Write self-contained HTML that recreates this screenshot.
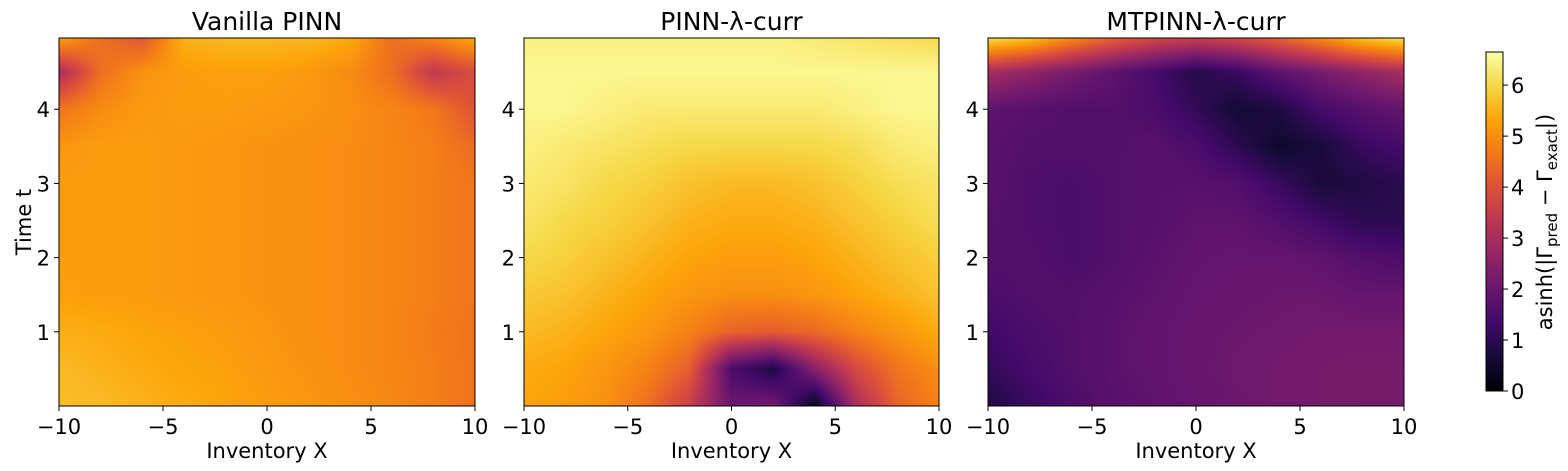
<!DOCTYPE html>
<html><head><meta charset="utf-8">
<style>
body{margin:0;background:#fff;width:1568px;height:471px;overflow:hidden;position:relative;font-family:"DejaVu Sans","Liberation Sans",sans-serif}
canvas{position:absolute}
svg{position:absolute;left:0;top:0}
text{font-family:"DejaVu Sans","Liberation Sans",sans-serif;fill:#000}
</style></head><body>
<canvas id="c0" style="left:59px;top:38px" width="416" height="368"></canvas>
<canvas id="c1" style="left:524px;top:38px" width="415" height="368"></canvas>
<canvas id="c2" style="left:988px;top:38px" width="416" height="368"></canvas>
<canvas id="cb" style="left:1486px;top:52px" width="17" height="339"></canvas>
<svg id="s" width="1568" height="471"></svg>
<script>
const xCats=[-10,-8,-6,-4,-2,0,2,4,6,8,10];
const tCats=[0,0.5,1,1.5,2,2.5,3,3.5,4,4.5,5];
const xTicks=[-10,-5,0,5,10];
const tTicks=[1,2,3,4];
const cbTicks=[0,1,2,3,4,5,6];
const titles=["Vanilla PINN","PINN-λ-curr","MTPINN-λ-curr"];
const vanilla=[
[5.65,5.6,5.5,5.4,5.3,5.2,5.1,5.0,4.9,4.75,4.55],
[5.6,5.5,5.4,5.3,5.25,5.15,5.05,4.95,4.85,4.75,4.55],
[5.45,5.4,5.3,5.25,5.2,5.1,5.0,4.95,4.85,4.7,4.55],
[5.25,5.2,5.2,5.15,5.1,5.05,5.0,4.95,4.85,4.75,4.6],
[5.2,5.2,5.2,5.15,5.1,5.05,5.0,4.95,4.85,4.75,4.6],
[5.2,5.2,5.2,5.15,5.1,5.05,5.0,4.95,4.85,4.75,4.6],
[5.2,5.2,5.2,5.15,5.1,5.05,5.0,4.95,4.85,4.75,4.6],
[5.1,5.2,5.2,5.15,5.1,5.05,5.0,4.95,4.85,4.75,4.45],
[4.6,4.95,5.15,5.2,5.2,5.15,5.1,5.0,4.85,4.65,4.0],
[3.0,4.5,5.05,5.2,5.25,5.25,5.15,4.95,4.5,3.4,3.9],
[5.5,4.5,4.0,5.5,5.6,5.6,5.6,5.4,4.5,5.0,5.5]];
const pinnCurr=[
[5.3,5.2,5.0,4.5,3.5,2.0,2.2,0.3,3.0,4.3,4.8],
[5.4,5.3,5.1,4.8,4.2,1.5,0.8,2.5,3.8,4.6,5.0],
[5.6,5.5,5.3,5.1,4.8,4.3,4.2,4.4,4.8,5.1,5.4],
[5.8,5.7,5.5,5.3,5.1,5.0,5.0,5.1,5.3,5.5,5.7],
[6.0,5.9,5.7,5.5,5.3,5.2,5.2,5.3,5.5,5.7,5.9],
[6.2,6.0,5.9,5.7,5.5,5.4,5.4,5.5,5.7,5.9,6.1],
[6.3,6.2,6.0,5.9,5.7,5.6,5.6,5.7,5.9,6.1,6.2],
[6.4,6.3,6.2,6.1,6.0,6.0,6.0,6.0,6.1,6.3,6.4],
[6.5,6.5,6.4,6.3,6.3,6.3,6.3,6.3,6.4,6.5,6.5],
[6.5,6.5,6.5,6.5,6.5,6.5,6.5,6.5,6.5,6.5,6.5],
[6.4,6.4,6.4,6.4,6.4,6.4,6.4,6.3,6.2,6.1,6.0]];
const mtpinnCurr=[
[0.8,1.2,1.5,1.7,1.8,1.9,2.0,2.1,2.15,2.2,2.2],
[1.1,1.4,1.6,1.75,1.85,1.95,2.05,2.1,2.15,2.2,2.2],
[1.3,1.5,1.6,1.75,1.85,1.95,2.0,2.05,2.1,2.1,2.1],
[1.5,1.6,1.6,1.7,1.8,1.9,1.95,2.0,2.0,1.9,1.9],
[1.6,1.6,1.5,1.6,1.75,1.85,1.9,1.9,1.8,1.6,1.5],
[1.65,1.55,1.5,1.6,1.7,1.8,1.8,1.6,1.3,1.0,1.0],
[1.7,1.55,1.5,1.6,1.7,1.7,1.6,1.2,0.7,0.8,1.0],
[1.75,1.6,1.6,1.6,1.7,1.5,1.0,0.5,0.7,1.2,1.4],
[1.8,1.7,1.6,1.6,1.5,1.1,0.6,0.8,1.4,1.7,1.9],
[3.0,2.6,2.2,1.8,1.4,0.9,1.2,1.8,2.2,2.6,3.0],
[6.4,6.0,5.2,4.5,4.0,3.8,4.0,4.5,5.2,6.0,6.4]];
const grids=[vanilla,pinnCurr,mtpinnCurr];

const VMIN=0,VMAX=6.65,TMAX=4.96;
const inferno=[[0,0,4],[22,11,57],[66,10,104],[106,23,110],[147,38,103],[188,55,84],[221,81,58],[243,120,25],[252,165,10],[246,215,70],[252,255,164]];
function cmap(v){let u=Math.max(0,Math.min(1,(v-VMIN)/(VMAX-VMIN)))*10;let i=Math.min(9,Math.floor(u)),f=u-i;const a=inferno[i],b=inferno[i+1];return [a[0]+(b[0]-a[0])*f,a[1]+(b[1]-a[1])*f,a[2]+(b[2]-a[2])*f];}
function interp(g,x,t){const fx=(x-xCats[0])/(xCats[1]-xCats[0]),ft=(t-tCats[0])/(tCats[1]-tCats[0]);
 let i=Math.min(xCats.length-2,Math.max(0,Math.floor(fx))),j=Math.min(tCats.length-2,Math.max(0,Math.floor(ft)));
 const a=fx-i,b=ft-j;return g[j][i]*(1-a)*(1-b)+g[j][i+1]*a*(1-b)+g[j+1][i]*(1-a)*b+g[j+1][i+1]*a*b;}
grids.forEach((g,k)=>{const c=document.getElementById('c'+k),ctx=c.getContext('2d'),W=c.width,H=c.height;const im=ctx.createImageData(W,H);
 for(let py=0;py<H;py++){const t=TMAX*(1-(py+0.5)/H);for(let px=0;px<W;px++){const x=-10+20*(px+0.5)/W;const col=cmap(interp(g,x,t));const o=(py*W+px)*4;im.data[o]=col[0];im.data[o+1]=col[1];im.data[o+2]=col[2];im.data[o+3]=255;}}
 ctx.putImageData(im,0,0);});
(function(){const c=document.getElementById('cb'),ctx=c.getContext('2d');for(let py=0;py<c.height;py++){const v=VMAX*(1-(py+0.5)/c.height);const col=cmap(v);ctx.fillStyle=`rgb(${col[0]|0},${col[1]|0},${col[2]|0})`;ctx.fillRect(0,py,c.width,1);}})();

const s=document.getElementById('s');const NS='http://www.w3.org/2000/svg';
function el(tag,attrs,txt){const e=document.createElementNS(NS,tag);for(const k in attrs)e.setAttribute(k,attrs[k]);if(txt!==undefined)e.textContent=txt;s.appendChild(e);return e;}
const panels=[{l:59,w:416},{l:524,w:415},{l:988,w:416}];
const TOP=38,PH=368;
panels.forEach((p,k)=>{
 const xs=x=>p.l+(x+10)/20*p.w, ys=t=>TOP+PH-t/TMAX*PH;
 const fr=el('rect',{x:p.l,y:TOP,width:p.w,height:PH,fill:'none',stroke:'#000','stroke-width':1});
 
 
 const ti=el('text',{x:p.l+p.w/2,y:30,'text-anchor':'middle','font-size':'25px'},titles[k]);
 
 
 xTicks.forEach(v=>{el('line',{x1:xs(v),x2:xs(v),y1:TOP+PH,y2:TOP+PH+5,stroke:'#000'});
  const tl=el('text',{x:xs(v),y:TOP+PH+28,'text-anchor':'middle','font-size':'21px'},v<0?'−'+(-v):String(v));
  
  });
 tTicks.forEach(v=>{el('line',{x1:p.l-5,x2:p.l,y1:ys(v),y2:ys(v),stroke:'#000'});
  const tl=el('text',{x:p.l-9,y:ys(v)+8,'text-anchor':'end','font-size':'21px'},String(v));
  
  });
 const xl=el('text',{x:p.l+p.w/2,y:458,'text-anchor':'middle','font-size':'21px'},'Inventory X');
 
 
});
const yl=el('text',{x:0,y:0,transform:'translate(31,222) rotate(-90)','text-anchor':'middle','font-size':'21px'},'Time t');


const cbf=el('rect',{x:1486,y:52,width:17,height:339,fill:'none',stroke:'#000','stroke-width':1});


cbTicks.forEach(v=>{const y=391-v/VMAX*339;el('line',{x1:1503,x2:1508,y1:y,y2:y,stroke:'#000'});
 const tl=el('text',{x:1511,y:y+8,'font-size':'21px'},String(v));
 
 });
const cl=el('text',{transform:'translate(1552,222) rotate(-90)','text-anchor':'middle','font-size':'21px'});


cl.innerHTML='asinh(|Γ<tspan font-size="15px" dy="5">pred</tspan><tspan dy="-5"> − Γ</tspan><tspan font-size="15px" dy="5">exact</tspan><tspan dy="-5">|)</tspan>';
</script>
</body></html>
